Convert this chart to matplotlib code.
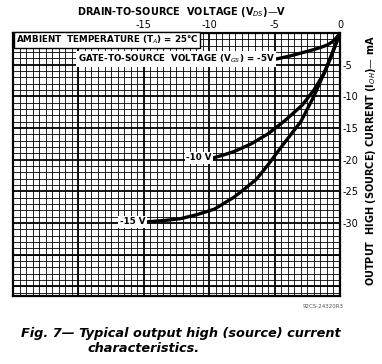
import numpy as np
import matplotlib.pyplot as plt

# values (VDS in volts, IOH in mA)
vds_5 = [0, -0.3, -0.6, -1.0, -1.4, -2.0, -2.9, -3.8, -4.9]
ioh_5 = [0, -0.8, -1.4, -1.9, -2.2, -2.6, -3.1, -3.6, -4.1]

vds_10 = [0, -0.6, -1.2, -2.0, -2.9, -4.2, -5.5, -6.8, -8.1, -9.0, -9.7]
ioh_10 = [0, -3.3, -6.3, -9.0, -11.4, -13.8, -15.9, -17.5, -18.7, -19.3, -19.7]

vds_15 = [0, -1.0, -2.0, -3.0, -4.5, -5.5, -6.4, -7.3, -8.1, -9.6, -11.0, -12.2, -13.5, -14.8]
ioh_15 = [0, -5.3, -10.0, -14.0, -18.0, -20.8, -23.1, -24.6, -25.9, -27.8, -28.7, -29.3, -29.6, -29.8]

x_ticks = [-15, -10, -5, 0]
y_ticks = [-5, -10, -15, -20, -25, -30]

fig = plt.figure(figsize=(3.82, 3.64), dpi=100)
ax = fig.add_axes([0.034, 0.187, 0.856, 0.722])
ax.set_xlim(-25, 0)
ax.set_ylim(-41.5, 0)

# chart paper grid
ax.set_xticks(np.arange(-25, 0.01, 0.5), minor=True)
ax.set_yticks(np.arange(-41, 0.01, 1), minor=True)
ax.grid(which='minor', color='black', lw=0.6)
for v in np.arange(-25, 0.01, 5):
    ax.axvline(v, color='black', lw=1.3)
for v in np.arange(-40, 0.01, 5):
    ax.axhline(v, color='black', lw=1.3)

ax.xaxis.tick_top()
ax.yaxis.tick_right()
ax.set_xticks(x_ticks)
ax.set_xticklabels([str(t) for t in x_ticks])
ax.set_yticks(y_ticks)
ax.set_yticklabels([str(t) for t in y_ticks])
ax.tick_params(which='both', length=0, labelsize=7, pad=2)
for s in ax.spines.values():
    s.set_linewidth(1.6)

for xs, ys in [(vds_5, ioh_5), (vds_10, ioh_10), (vds_15, ioh_15)]:
    ax.plot(xs, ys, color='black', lw=2.4, solid_capstyle='round', zorder=5)

box = dict(facecolor='white', edgecolor='none', pad=1.2)
ax.text(-24.8, -1.1, 'AMBIENT  TEMPERATURE (T$_A$) = 25°C', fontsize=6.3,
        fontweight='bold', va='center', ha='left', zorder=6,
        bbox=dict(facecolor='white', edgecolor='black', lw=1.0, pad=1.5))
ax.text(-5.0, -4.1, 'GATE-TO-SOURCE  VOLTAGE (V$_{GS}$) = -5V', fontsize=6.3,
        fontweight='bold', va='center', ha='right', zorder=6, bbox=box)
ax.text(-9.8, -19.7, '-10 V', fontsize=6.3, fontweight='bold',
        va='center', ha='right', zorder=6, bbox=box)
ax.text(-14.9, -29.8, '-15 V', fontsize=6.3, fontweight='bold',
        va='center', ha='right', zorder=6, bbox=box)

fig.text(0.475, 0.968, 'DRAIN-TO-SOURCE  VOLTAGE (V$_{DS}$)—V', fontsize=7,
         fontweight='bold', ha='center', va='center')
fig.text(0.972, 0.56, 'OUTPUT  HIGH (SOURCE) CURRENT (I$_{OH}$)— mA', fontsize=7,
         fontweight='bold', ha='center', va='center', rotation=90)
fig.text(0.845, 0.157, '92CS-24320R3', fontsize=4, color='#555555',
         ha='center', va='center')
fig.text(0.055, 0.085, 'Fig. 7— Typical output high (source) current', fontsize=9.3,
         fontweight='bold', style='italic', ha='left', va='center')
fig.text(0.228, 0.043, 'characteristics.', fontsize=9.3,
         fontweight='bold', style='italic', ha='left', va='center')

fig.savefig('out.png', dpi=100)
